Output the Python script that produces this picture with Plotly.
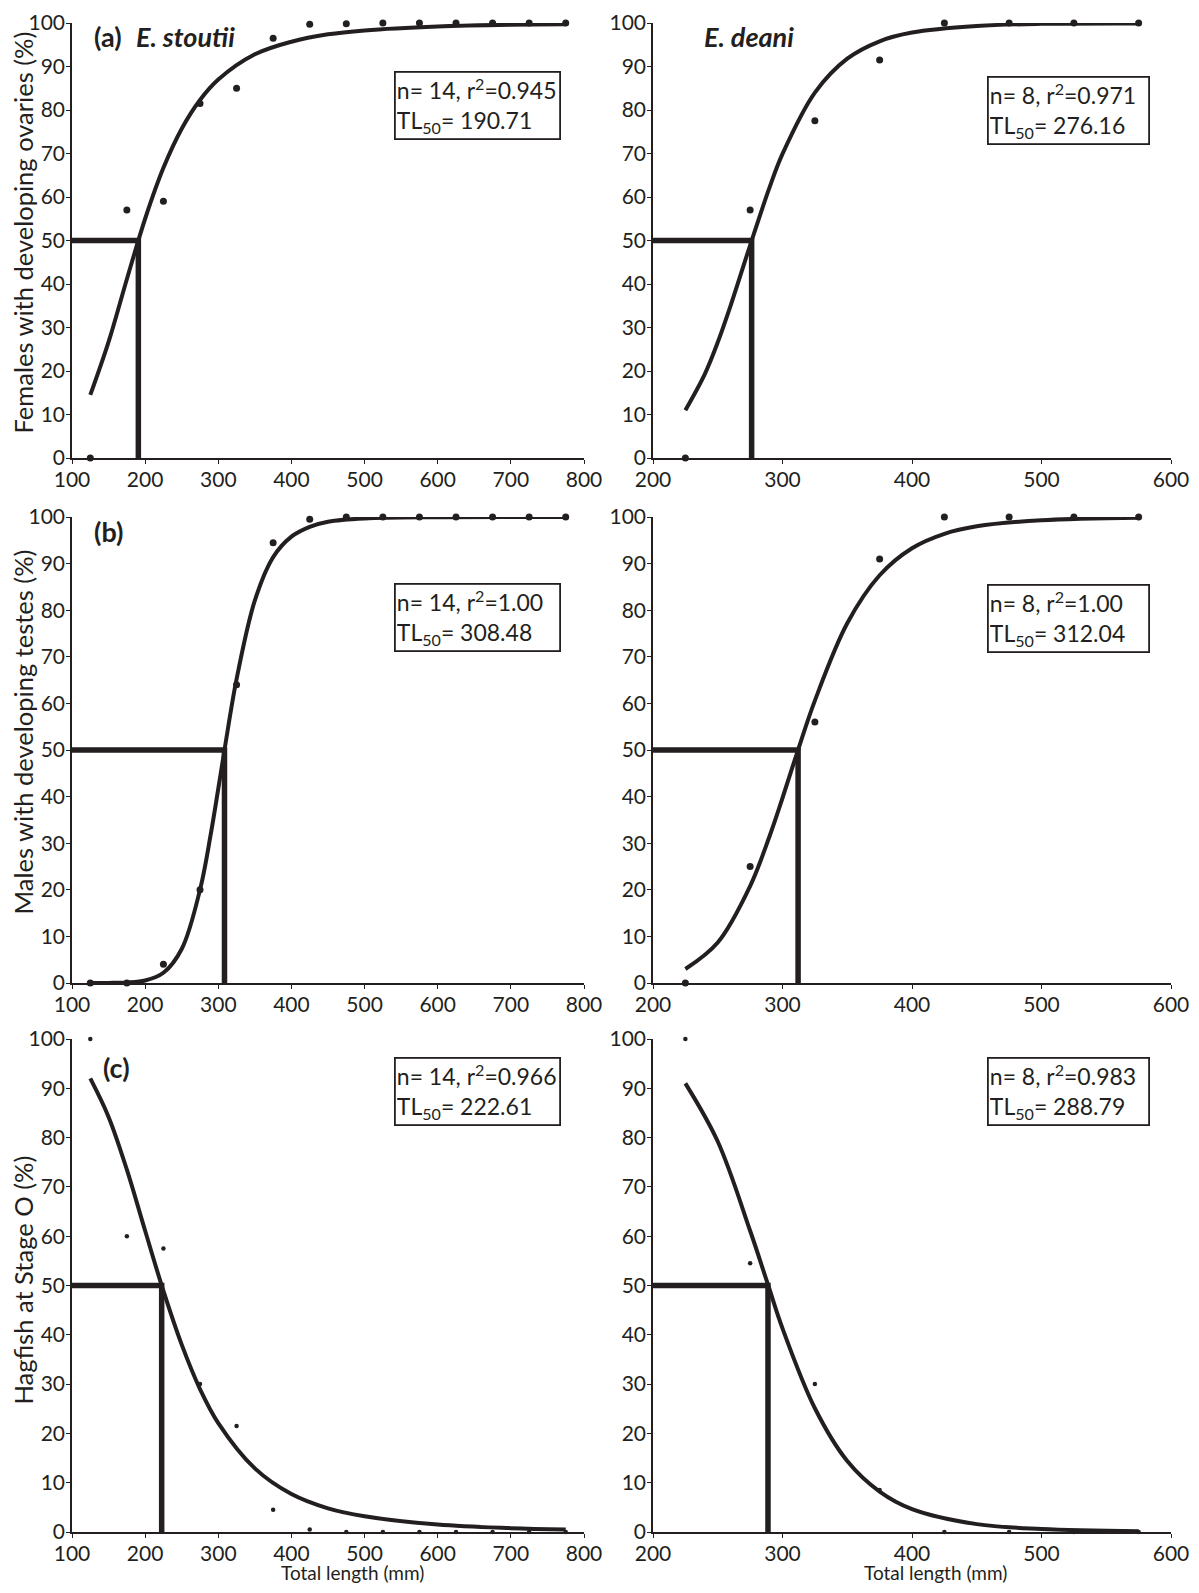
import plotly.graph_objects as go

# ---------------- data ----------------
len_stoutii = [125, 175, 225, 275, 325, 375, 425, 475, 525, 575, 625, 675, 725, 775]
len_deani = [225, 275, 325, 375, 425, 475, 525, 575]

# observed proportions (%)
fem_stoutii = [0, 57, 59, 81.5, 85, 96.5, 99.7, 99.8, 100, 100, 100, 100, 100, 100]
fem_deani = [0, 57, 77.5, 91.5, 100, 100, 100, 100]
mal_stoutii = [0, 0, 4, 20, 64, 94.5, 99.5, 100, 100, 100, 100, 100, 100, 100]
mal_deani = [0, 25, 56, 91, 100, 100, 100, 100]
stg_stoutii = [100, 60, 57.5, 30, 21.5, 4.5, 0.5, 0, 0, 0, 0, 0, 0, 0]
stg_deani = [100, 54.5, 30, 8.5, 0, 0, 0, 0]

# fitted curves
fit_fem_stoutii_x = [125, 150, 175, 200, 225, 250, 275, 300, 350, 400, 450, 500, 600, 700, 775]
fit_fem_stoutii_y = [14.5, 26.7, 41.1, 55.0, 66.7, 75.7, 82.3, 87.0, 92.8, 95.7, 97.4, 98.3, 99.2, 99.6, 99.7]
fit_fem_deani_x = [225, 240, 250, 260, 275, 290, 300, 325, 350, 375, 400, 450, 500, 575]
fit_fem_deani_y = [11, 19.3, 26.6, 35.1, 48.9, 62.2, 69.9, 84.0, 91.8, 95.8, 97.8, 99.3, 99.8, 99.9]
fit_mal_stoutii_x = [125, 150, 175, 200, 225, 250, 275, 290, 300, 310, 325, 350, 375, 400, 425, 450, 500, 600, 775]
fit_mal_stoutii_y = [0.0, 0.02, 0.11, 0.53, 2.2, 7.3, 20, 32.2, 41.7, 51.5, 65.2, 82.1, 91.4, 95.8, 97.9, 99.0, 99.7, 99.97, 100]
fit_mal_deani_x = [225, 250, 275, 290, 300, 312, 325, 350, 375, 400, 425, 450, 500, 575]
fit_mal_deani_y = [3.0, 8.7, 20.8, 31.5, 39.7, 50, 60.6, 77.2, 87.5, 93.3, 96.4, 98.0, 99.3, 99.85]
fit_stg_stoutii_x = [125, 150, 175, 200, 225, 250, 275, 300, 350, 400, 450, 500, 600, 700, 775]
fit_stg_stoutii_y = [92, 84.2, 73.5, 61.1, 48.9, 38.0, 29.0, 22.1, 12.9, 7.7, 4.8, 3.2, 1.5, 0.78, 0.51]
fit_stg_deani_x = [225, 250, 275, 289, 300, 325, 350, 375, 400, 450, 500, 575]
fit_stg_deani_y = [91, 79.2, 61.1, 50, 41.3, 25.1, 14.4, 8.2, 4.65, 1.6, 0.61, 0.17]

tl50 = [190.71, 276.16, 308.48, 312.04, 222.61, 288.79]
n_vals = [14, 8, 14, 8, 14, 8]
r2_vals = ["0.945", "0.971", "1.00", "1.00", "0.966", "0.983"]
x_start = [100, 200, 100, 200, 100, 200]
x_end = [800, 600, 800, 600, 800, 600]
x_tick_step = [100, 100, 100, 100, 100, 100]

y_titles = ["Females with developing ovaries (%)",
            "Males with developing testes (%)",
            "Hagfish at Stage O (%)"]
x_title = "Total length (mm)"

obs_x = [len_stoutii, len_deani, len_stoutii, len_deani, len_stoutii, len_deani]
obs_y = [fem_stoutii, fem_deani, mal_stoutii, mal_deani, stg_stoutii, stg_deani]
fit_x = [fit_fem_stoutii_x, fit_fem_deani_x, fit_mal_stoutii_x, fit_mal_deani_x,
         fit_stg_stoutii_x, fit_stg_deani_x]
fit_y = [fit_fem_stoutii_y, fit_fem_deani_y, fit_mal_stoutii_y, fit_mal_deani_y,
         fit_stg_stoutii_y, fit_stg_deani_y]

# ---------------- layout ----------------
FONT = "Lato"
INK = "#231f20"
OFF = 8                      # default page body margin
W, H = 1199 - 2 * OFF, 1593 - 2 * OFF


def px(p):
    return (p - OFF) / W


def py(p):
    return 1 - (p - OFF) / H


x_doms = [[px(72), px(584)], [px(653), px(1171)]]
y_doms = [[py(458), py(23)], [py(983), py(517)], [py(1532), py(1039)]]
y_title_centers = [233, 732, 1280]      # page px
x_title_centers = [352, 935]            # page px
marker_sizes = [7, 7, 7, 7, 4.5, 4.5]

fig = go.Figure()
layout = dict(
    width=W, height=H,
    margin=dict(l=0, r=0, t=0, b=0),
    paper_bgcolor="white", plot_bgcolor="white",
    showlegend=False,
    font=dict(family=FONT, color=INK),
)

annotations = []
for i in range(6):
    row, col = i // 2, i % 2
    xa = "x" if i == 0 else f"x{i + 1}"
    ya = "y" if i == 0 else f"y{i + 1}"
    xkey = "xaxis" if i == 0 else f"xaxis{i + 1}"
    ykey = "yaxis" if i == 0 else f"yaxis{i + 1}"

    # reference lines at 50 %
    fig.add_trace(go.Scatter(
        x=[x_start[i], tl50[i], tl50[i]], y=[50, 50, 0],
        mode="lines", line=dict(color=INK, width=5.5),
        xaxis=xa, yaxis=ya, cliponaxis=False, hoverinfo="skip"))
    # fitted curve
    fig.add_trace(go.Scatter(
        x=fit_x[i], y=fit_y[i], mode="lines",
        line=dict(color=INK, width=4, shape="spline", smoothing=1.0),
        xaxis=xa, yaxis=ya, cliponaxis=False))
    # observed
    fig.add_trace(go.Scatter(
        x=obs_x[i], y=obs_y[i], mode="markers",
        marker=dict(color=INK, size=marker_sizes[i]),
        xaxis=xa, yaxis=ya, cliponaxis=False))

    layout[xkey] = dict(
        domain=x_doms[col], anchor=ya, range=[x_start[i], x_end[i]], automargin=False,
        tickmode="linear", tick0=x_start[i], dtick=x_tick_step[i],
        showgrid=False, zeroline=False, showline=True, linecolor=INK, linewidth=1.5,
        ticks="outside", ticklen=4, tickwidth=1.2, tickcolor=INK,
        ticklabelstandoff=-2,
        tickfont=dict(family=FONT, size=21, color=INK),
    )
    layout[ykey] = dict(
        domain=y_doms[row], anchor=xa, range=[0, 100], automargin=False,
        tickmode="linear", tick0=0, dtick=10,
        showgrid=False, zeroline=False, showline=True, linecolor=INK, linewidth=1.5,
        ticks="outside", ticklen=4, tickwidth=1.2, tickcolor=INK,
        ticklabelstandoff=-3,
        tickfont=dict(family=FONT, size=21, color=INK),
    )

    # statistics box
    box_y = [89, 87.8, 85.8, 85.6, 96.3, 96.3][i]
    box_x = 540 if col == 0 else 458
    annotations.append(dict(
        x=box_x, y=box_y, xref=xa, yref=ya, xanchor="left", yanchor="top",
        text=f"n= {n_vals[i]}, r<sup>2</sup>=" + r2_vals[i] + f"<br>TL<sub>50</sub>= {tl50[i]:.2f}",
        showarrow=False, align="left", width=161 if col == 0 else 157,
        font=dict(family=FONT, size=23, color=INK),
        bordercolor=INK, borderwidth=1.8, borderpad=1, bgcolor="white"))

# axis titles
for r in range(3):
    annotations.append(dict(
        x=px(22.5), y=py(y_title_centers[r]), xref="paper", yref="paper",
        xanchor="center", yanchor="middle", textangle=-90, showarrow=False,
        text=y_titles[r], font=dict(family=FONT, size=25.5, color=INK)))
for c in range(2):
    annotations.append(dict(
        x=px(x_title_centers[c]), y=py(1572), xref="paper", yref="paper",
        xanchor="center", yanchor="middle", showarrow=False,
        text=x_title, font=dict(family=FONT, size=19, color=INK)))

# panel labels
annotations += [
    dict(x=128, y=97, xref="x", yref="y", xanchor="left", yanchor="middle", showarrow=False,
         text="<b>(a)</b>", font=dict(family=FONT, size=27, color=INK)),
    dict(x=185, y=97, xref="x", yref="y", xanchor="left", yanchor="middle", showarrow=False,
         text="<b><i>E. stoutii</i></b>", font=dict(family=FONT, size=27, color=INK)),
    dict(x=238, y=97, xref="x2", yref="y2", xanchor="left", yanchor="middle", showarrow=False,
         text="<b><i>E. deani</i></b>", font=dict(family=FONT, size=27, color=INK)),
    dict(x=128, y=96.8, xref="x3", yref="y3", xanchor="left", yanchor="middle", showarrow=False,
         text="<b>(b)</b>", font=dict(family=FONT, size=27, color=INK)),
    dict(x=140, y=94.3, xref="x5", yref="y5", xanchor="left", yanchor="middle", showarrow=False,
         text="<b>(c)</b>", font=dict(family=FONT, size=27, color=INK)),
]
layout["annotations"] = annotations
fig.update_layout(**layout)
fig.write_html("out.html")
